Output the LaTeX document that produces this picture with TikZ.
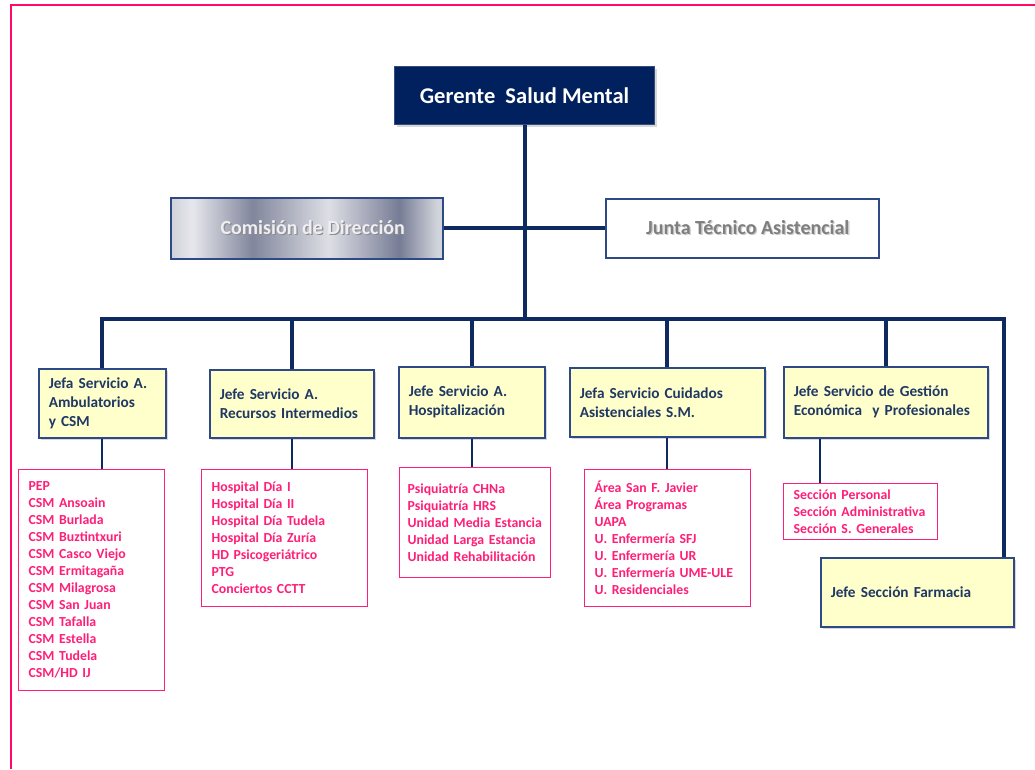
\documentclass[tikz,border=0pt]{standalone}
\usepackage{fontspec}
\setmainfont{Carlito}
\usetikzlibrary{shadows}
\definecolor{navyfill}{HTML}{00205E}
\definecolor{linenavy}{HTML}{0F2A60}
\definecolor{boxedge}{HTML}{2E4A86}
\definecolor{jefetext}{HTML}{1F3864}
\definecolor{paleyellow}{HTML}{FFFFCC}
\definecolor{listpink}{HTML}{FF1F78}
\definecolor{framepink}{HTML}{FF0A68}
\definecolor{juntagray}{HTML}{7F7F7F}
\definecolor{comtext}{HTML}{EEEEF3}
\definecolor{metA}{HTML}{D0D2DA}
\definecolor{metB}{HTML}{E6E7EC}
\definecolor{metC}{HTML}{81869C}
\definecolor{metD}{HTML}{DEDFE5}
\definecolor{metE}{HTML}{767C95}
\definecolor{metF}{HTML}{D2D4DC}
\pgfdeclarehorizontalshading{metal}{100bp}{color(0bp)=(metA);
  color(25bp)=(metA);
  color(29bp)=(metB);
  color(40bp)=(metC);
  color(54bp)=(metD);
  color(67bp)=(metE);
  color(74bp)=(metF);
  color(75bp)=(metF);
  color(100bp)=(metF)}
\newcommand\shadowed[2]{\makebox[0pt][l]{\hspace{1.3pt}\raisebox{-1.3pt}{\textcolor{#1}{#2}}}#2}
\begin{document}
\begin{tikzpicture}[x=1pt, y=-1pt,
    bus/.style={draw=linenavy, line width=4pt},
    link/.style={draw=linenavy, line width=2pt},
    jefebox/.style={draw=boxedge, line width=1.5pt, fill=paleyellow, text=jefetext,
      drop shadow={shadow xshift=2pt, shadow yshift=-2pt, fill=black!30},
      font=\fontsize{15.3}{19}\selectfont\bfseries, align=left, anchor=north west, inner xsep=10pt},
    listbox/.style={draw=listpink, line width=1.3pt, fill=white, text=listpink,
      font=\fontsize{13.8}{17}\selectfont\bfseries, align=left, anchor=north west,
      inner xsep=10pt, inner ysep=2pt}]
    \useasboundingbox (0,0) rectangle (1035,769);
    \draw[framepink, line width=2pt] (11,769) -- (11,5) -- (1035,5);

    % top level
    \node[draw=navyfill!80!white, line width=1pt, fill=navyfill, text=white, anchor=north west,
      minimum width=260, minimum height=58, font=\fontsize{22.5}{26}\selectfont\bfseries,
      drop shadow={shadow xshift=2pt, shadow yshift=-2pt, fill=black!30}] (ger) at (394,66) {Gerente\ \ Salud Mental};
    \node[draw=boxedge, line width=1.5pt, shading=metal, text=comtext, anchor=north west,
      minimum width=272, minimum height=61, font=\fontsize{20}{24}\selectfont\bfseries] (com) at (170,197) {\hspace*{12pt}\shadowed{black!45}{Comisión de Dirección}};
    \node[draw=boxedge, line width=1.5pt, fill=white, text=juntagray, anchor=north west,
      minimum width=273, minimum height=59, font=\fontsize{20}{24}\selectfont\bfseries] (jun) at (605,198) {\hspace*{11pt}\shadowed{black!20}{Junta Técnico Asistencial}};

    % jefaturas
    \node[jefebox, text width=107pt, minimum height=69] (j1) at (38,368) {Jefa Servicio A.\\Ambulatorios\\y CSM};
    \node[jefebox, text width=144pt, minimum height=68] (j2) at (209,369) {Jefe Servicio A.\\Recursos Intermedios};
    \node[jefebox, text width=126pt, minimum height=71] (j3) at (398,366) {Jefe Servicio A.\\Hospitalización};
    \node[jefebox, text width=175pt, minimum height=69] (j4) at (569,367) {Jefa Servicio Cuidados\\Asistenciales S.M.};
    \node[jefebox, text width=184pt, minimum height=71] (j5) at (783,366) {Jefe Servicio de Gestión\\Económica\ \ y Profesionales};
    \node[jefebox, text width=173pt, minimum height=69] (far) at (820,557) {Jefe Sección Farmacia};

    % unidades
    \node[listbox, text width=126pt, minimum height=221] (l1) at (18,469) {PEP\\CSM Ansoain\\CSM Burlada\\CSM Buztintxuri\\CSM Casco Viejo\\CSM Ermitagaña\\CSM Milagrosa\\CSM San Juan\\CSM Tafalla\\CSM Estella\\CSM Tudela\\CSM/HD IJ};
    \node[listbox, text width=146pt, minimum height=137] (l2) at (201,469) {Hospital Día I\\Hospital Día II\\Hospital Día Tudela\\Hospital Día Zuría\\HD Psicogeriátrico\\PTG\\Conciertos CCTT};
    \node[listbox, text width=135pt, inner xsep=8pt, minimum height=110] (l3) at (399,467) {Psiquiatría CHNa\\Psiquiatría HRS\\Unidad Media Estancia\\Unidad Larga Estancia\\Unidad Rehabilitación};
    \node[listbox, text width=146pt, minimum height=137] (l4) at (584,469) {Área San F. Javier\\Área Programas\\UAPA\\U. Enfermería SFJ\\U. Enfermería UR\\U. Enfermería UME-ULE\\U. Residenciales};
    \node[listbox, text width=134pt, minimum height=56] (l5) at (783,483) {Sección Personal\\Sección Administrativa\\Sección S. Generales};

    % connectors
    \coordinate (busR) at (1004,319);
    \draw[bus] (ger.south) -- (ger.south |- busR);
    \draw[bus] (com) -- (jun);
    \draw[bus] (j1.north) |- (busR) -- (busR |- far.north);
    \foreach \j in {j2,j3,j4,j5}
        \draw[bus] (\j.north) -- (\j.north |- busR);
    \foreach \j/\l in {j1/l1,j2/l2,j3/l3,j4/l4}
        \draw[link] (\j.south) -- (\j.south |- \l.north);
    \draw[link] (l5.north west) ++(37,0) coordinate (t5) -- (t5 |- j5.south);
\end{tikzpicture}
\end{document}
